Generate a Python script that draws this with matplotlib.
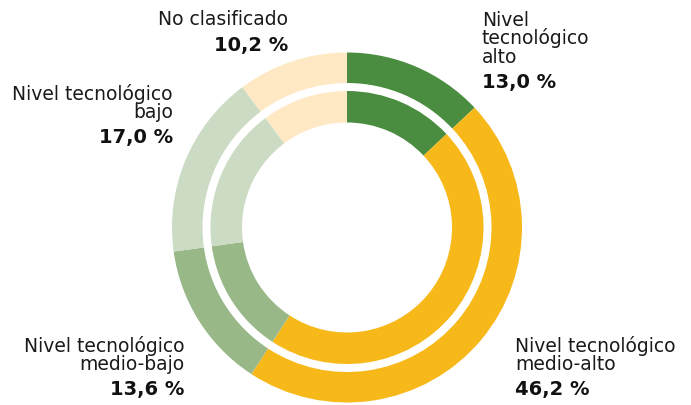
import matplotlib
matplotlib.use('Agg')
import matplotlib.pyplot as plt

# datos
categorias = ["Nivel tecnológico alto", "Nivel tecnológico medio-alto", "Nivel tecnológico medio-bajo",
              "Nivel tecnológico bajo", "No clasificado"]
valores_ext = [13.0, 46.2, 13.6, 17.0, 10.2]
valores_int = [13.0, 46.2, 13.6, 17.0, 10.2]
etiquetas = ["Nivel\ntecnológico\nalto", "Nivel tecnológico\nmedio-alto", "Nivel tecnológico\nmedio-bajo",
             "Nivel tecnológico\nbajo", "No clasificado"]
colores = ["#4a8c40", "#f7b81a", "#98b888", "#ccdbc4", "#fee9c4"]

W, H = 691, 405
fig = plt.figure(figsize=(W / 100, H / 100), dpi=100)

cx, cy, R = 347, 227.5, 175
ax = fig.add_axes([(cx - R) / W, (H - cy - R) / H, 2 * R / W, 2 * R / H])
ax.pie(valores_ext, colors=colores, radius=1.0, startangle=90, counterclock=False,
       wedgeprops=dict(width=30.5 / R, linewidth=0))
ax.pie(valores_int, colors=colores, radius=136.5 / R, startangle=90, counterclock=False,
       wedgeprops=dict(width=31.5 / R, linewidth=0))
ax.set_xlim(-1, 1)
ax.set_ylim(-1, 1)
ax.set_aspect('equal')
ax.axis('off')

fuente = 'DejaVu Sans'
# (x, y de la línea base del último renglón del nombre, alineación)
pos = [(482, 62.7, 'left'), (515, 370, 'left'), (184, 370, 'right'), (173, 118, 'right'), (288, 25, 'right')]
salto = 18.5
for et, v, (x, y, ha) in zip(etiquetas, valores_ext, pos):
    lineas = et.split("\n")
    for i, ln in enumerate(lineas):
        yy = y - (len(lineas) - 1 - i) * salto
        fig.text(x / W, 1 - yy / H, ln, ha=ha, va='baseline', fontsize=13.5,
                 family=fuente, color='#1a1a1a')
    fig.text(x / W, 1 - (y + 25.5) / H, f"{v:.1f} %".replace(".", ","), ha=ha, va='baseline',
             fontsize=14, family=fuente, fontweight='bold', color='#111111')

fig.savefig("out.png", dpi=100)
